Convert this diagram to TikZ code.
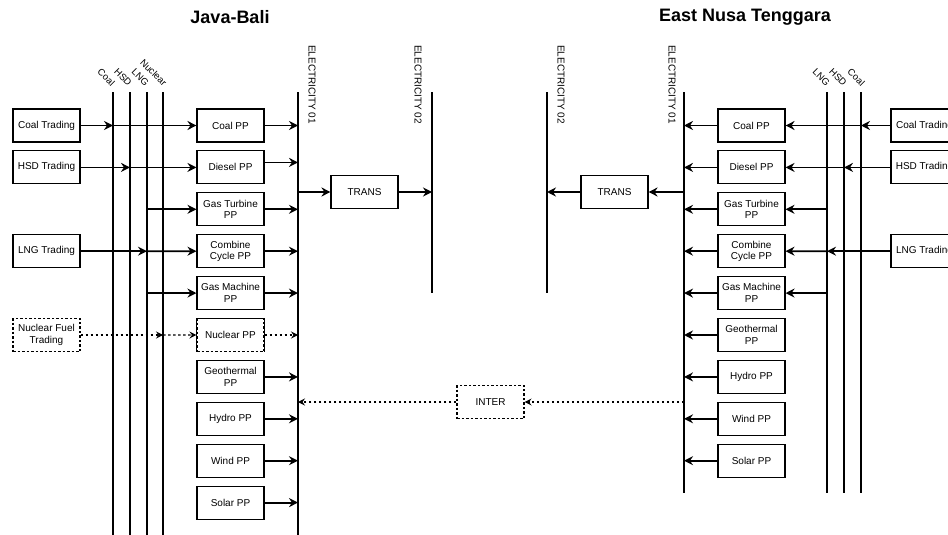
\documentclass[tikz,border=0pt]{standalone}
\usepackage{fontspec}
\setmainfont{Liberation Sans}
\usetikzlibrary{arrows.meta,calc,positioning}
\tikzset{
  pw text/.style={font=\fontsize{10}{11.5}\selectfont, text=black},
  pw box/.style={draw=black, line width=1.1pt, fill=white, minimum width=67pt,
    minimum height=33pt, inner sep=1pt, align=center, font=\fontsize{10}{11.5}\selectfont},
  pw dbox/.style={pw box, dash pattern=on 2.5pt off 2pt},
  pw bus/.style={line width=2.2pt, line cap=butt},
  pw arrow/.style={-{Stealth[length=9pt,width=9pt,inset=3pt]}, line width=1.8pt},
  pw darrow/.style={-{Stealth[length=7pt,width=7pt,inset=2.5pt]}, line width=1.1pt,
    dash pattern=on 2.5pt off 2.5pt},
  pw title/.style={font=\bfseries\fontsize{18}{20}\selectfont},
  pw fuel/.style={font=\fontsize{9.5}{11}\selectfont, rotate=-45, anchor=east, inner sep=1pt},
  pw elec/.style={font=\fontsize{10}{11}\selectfont, rotate=-90, anchor=west, inner sep=0pt}
}

\begin{document}
\begin{tikzpicture}[pw text, x=1pt, y=-1pt]
  \useasboundingbox (0,0) rectangle (948,535);
  \node[pw title] (jtitle) at (230,17) {Java-Bali};
  \node[pw title] (ntitle) at (745,17) {East Nusa Tenggara};

  % buses, Java-Bali
  \foreach \n/\x in {jbcoal/113,jbhsd/130,jblng/147,jbnuc/163,je1/298} {
    \coordinate (\n) at (\x,92);
    \draw[pw bus] (\n) -- ++(0,443);
  }
  \coordinate (je2) at (432,92);
  \draw[pw bus] (je2) -- ++(0,201);
  % buses, East Nusa Tenggara
  \coordinate (ne2) at (547,92);
  \draw[pw bus] (ne2) -- ++(0,201);
  \foreach \n/\x in {ne1/684,nblng/827,nbhsd/844,nbcoal/861} {
    \coordinate (\n) at (\x,92);
    \draw[pw bus] (\n) -- ++(0,401);
  }

  \foreach \x/\lab in {114/Coal,131/HSD,148/LNG,166/Nuclear,829/LNG,846/HSD,864/Coal}
    \node[pw fuel] at (\x,85) {\lab};
  \foreach \x/\lab in {312/ELECTRICITY 01,418/ELECTRICITY 02,561/ELECTRICITY 02,672/ELECTRICITY 01}
    \node[pw elec] at (\x,45) {\lab};

  % trading
  \node[pw box] (jcoaltr) at (46.5,125.5) {Coal Trading};
  \node[pw box] (jhsdtr) at (46.5,167.4) {HSD Trading};
  \node[pw box] (jlngtr) at (46.5,251.2) {LNG Trading};
  \node[pw dbox] (jnuctr) at (46.5,335) {Nuclear Fuel\\Trading};
  \node[pw box] (ncoaltr) at (924.5,125.5) {Coal Trading};
  \node[pw box] (nhsdtr) at (924.5,167.4) {HSD Trading};
  \node[pw box] (nlngtr) at (924.5,251.2) {LNG Trading};

  % power plants
  \foreach \n/\lab [count=\i from 0] in {jcoal/Coal PP,jdiesel/Diesel PP,jgt/{Gas Turbine\\PP},
      jcc/{Combine\\Cycle PP},jgm/{Gas Machine\\PP},jnuc/Nuclear PP,jgeo/{Geothermal\\PP},
      jhydro/Hydro PP,jwind/Wind PP,jsolar/Solar PP}
    \node[pw box] (\n) at (230.5,125.5+41.9*\i) {\lab};
  \node[pw dbox] at (jnuc) {Nuclear PP};
  \foreach \n/\lab [count=\i from 0] in {ncoal/Coal PP,ndiesel/Diesel PP,ngt/{Gas Turbine\\PP},
      ncc/{Combine\\Cycle PP},ngm/{Gas Machine\\PP},ngeo/{Geothermal\\PP},
      nhydro/Hydro PP,nwind/Wind PP,nsolar/Solar PP}
    \node[pw box] (\n) at (751.5,125.5+41.9*\i) {\lab};

  \node[pw box] (jtrans) at (364.5,192) {TRANS};
  \node[pw box] (ntrans) at (614.5,192) {TRANS};
  \node[pw dbox] (inter) at (490.5,402) {INTER};

  % fuel supply
  \foreach \t/\b/\p in {jcoaltr/jbcoal/jcoal,jhsdtr/jbhsd/jdiesel,jlngtr/jblng/jcc} {
    \draw[pw arrow] (\t.east) -- (\t.east -| \b);
    \draw[pw arrow] (\t.east -| \b) -- (\p.west);
  }
  \draw[pw arrow] (jgt.west -| jblng) -- (jgt.west);
  \draw[pw arrow] (jgm.west -| jblng) -- (jgm.west);
  \draw[pw darrow] (jnuctr.east) -- (jnuctr.east -| jbnuc);
  \draw[pw darrow] (jnuctr.east -| jbnuc) -- (jnuc.west);
  \foreach \t/\b/\p in {ncoaltr/nbcoal/ncoal,nhsdtr/nbhsd/ndiesel,nlngtr/nblng/ncc} {
    \draw[pw arrow] (\t.west) -- (\t.west -| \b);
    \draw[pw arrow] (\t.west -| \b) -- (\p.east);
  }
  \draw[pw arrow] (ngt.east -| nblng) -- (ngt.east);
  \draw[pw arrow] (ngm.east -| nblng) -- (ngm.east);

  % generation to grid
  \foreach \p in {jcoal,jgt,jcc,jgm,jgeo,jhydro,jwind,jsolar}
    \draw[pw arrow] (\p.east) -- (\p.east -| je1);
  \draw[pw arrow] ([yshift=5pt]jdiesel.east) -- ([yshift=5pt]jdiesel.east -| je1);
  \draw[pw darrow] (jnuc.east) -- (jnuc.east -| je1);
  \foreach \p in {ncoal,ndiesel,ngt,ncc,ngm,ngeo,nhydro,nwind,nsolar}
    \draw[pw arrow] (\p.west) -- (\p.west -| ne1);

  % transmission and interconnection
  \draw[pw arrow] (jtrans.west -| je1) -- (jtrans.west);
  \draw[pw arrow] (jtrans.east) -- (jtrans.east -| je2);
  \draw[pw arrow] (ntrans.east -| ne1) -- (ntrans.east);
  \draw[pw arrow] (ntrans.west) -- (ntrans.west -| ne2);
  \draw[pw darrow] (inter.east -| ne1) -- (inter.east);
  \draw[pw darrow] (inter.west) -- (inter.west -| je1);
\end{tikzpicture}
\end{document}
